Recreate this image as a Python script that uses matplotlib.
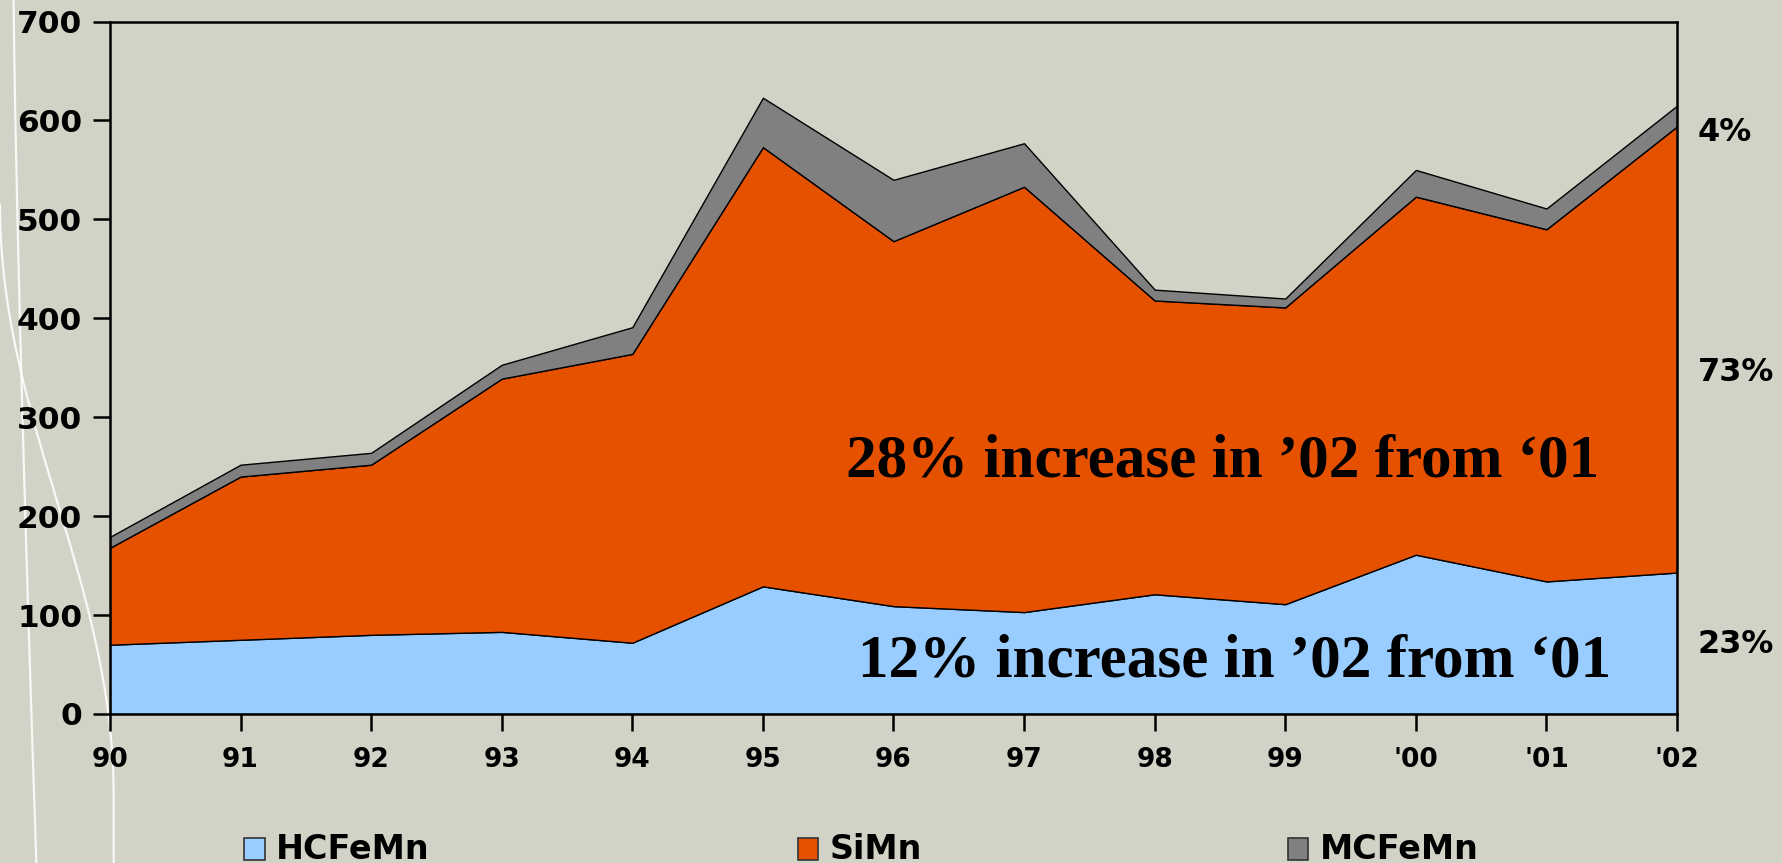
import matplotlib.pyplot as plt
import numpy as np
from matplotlib.patches import Rectangle

years = ['90', '91', '92', '93', '94', '95', '96', '97', '98', '99', "'00", "'01", "'02"]
hcfemn = [70, 75, 80, 83, 72, 129, 109, 103, 121, 111, 161, 134, 143]
simn = [98, 165, 172, 256, 292, 444, 369, 430, 297, 300, 362, 356, 451]
mcfemn = [11, 12, 12, 14, 27, 50, 62, 44, 11, 9, 27, 21, 21]
series_names = ['HCFeMn', 'SiMn', 'MCFeMn']
share_labels = ['23%', '73%', '4%']

bg = '#D2D2C6'
colors = ['#99CCFF', '#E65100', '#808080']
sans = 'DejaVu Sans'
serif = 'Liberation Serif'

fig = plt.figure(figsize=(17.82, 8.63), dpi=100, facecolor=bg)

# background decoration (white curves of the slide template), figure coords
def deco(xx, yy):
    fig.add_artist(plt.Line2D(xx / 1568, 1 - yy / 759, transform=fig.transFigure,
                              color='white', lw=1.6, alpha=0.85, zorder=-1))

ya = np.linspace(0, 759, 200)
deco(12 + 20 * (ya / 759) ** 1.3, ya)
s = np.linspace(0, 1, 200)
yb = 180 + 520 * s
xb = np.append(100 * (1 - np.cos(np.pi * s)) / 2, 100)
deco(xb, np.append(yb, 759))

ax = fig.add_axes([0.0617, 0.1727, 0.8794, 0.8023])
ax.set_facecolor(bg)
x = np.arange(len(years))
ax.stackplot(x, hcfemn, simn, mcfemn, colors=colors, edgecolor='black', linewidth=1)

ax.set_xlim(0, len(years) - 1)
ax.set_ylim(0, 700)
ax.set_xticks(x)
ax.set_xticklabels(years)
ax.set_yticks(range(0, 701, 100))
for sp in ax.spines.values():
    sp.set_linewidth(1.8)
    sp.set_color('black')
ax.tick_params(axis='both', direction='out', length=12, width=1.8)
ax.tick_params(axis='x', pad=12)
ax.tick_params(axis='y', pad=8)
for lab in ax.get_xticklabels():
    lab.set_fontfamily(sans)
    lab.set_fontweight('bold')
    lab.set_fontsize(19)
for lab in ax.get_yticklabels():
    lab.set_fontfamily(sans)
    lab.set_fontweight('bold')
    lab.set_fontsize(22.5)

# annotations
ax.text(5.64, 255, '28% increase in \u201902 from \u201801', fontfamily=serif,
        fontweight='bold', fontsize=44, va='center', ha='left')
ax.text(5.73, 53, '12% increase in \u201902 from \u201801', fontfamily=serif,
        fontweight='bold', fontsize=44, va='center', ha='left')

# share labels on the right
share_y = [70, 345, 588]
for lab, yy in zip(share_labels, share_y):
    ax.text(12.16, yy, lab, fontfamily=sans, fontweight='bold', fontsize=23,
            va='center', ha='left', clip_on=False)

# legend at the bottom
leg_x = [0.137, 0.4477, 0.7226]
for name, c, lx in zip(series_names, colors, leg_x):
    fig.add_artist(Rectangle((lx, 0.004), 0.0115, 0.025, transform=fig.transFigure,
                             facecolor=c, edgecolor='#333333', lw=1.2))
    fig.text(lx + 0.018, 0.016, name, fontfamily=sans, fontweight='bold', fontsize=24,
             va='center', ha='left')

fig.savefig('out.png', dpi=100, facecolor=bg)
